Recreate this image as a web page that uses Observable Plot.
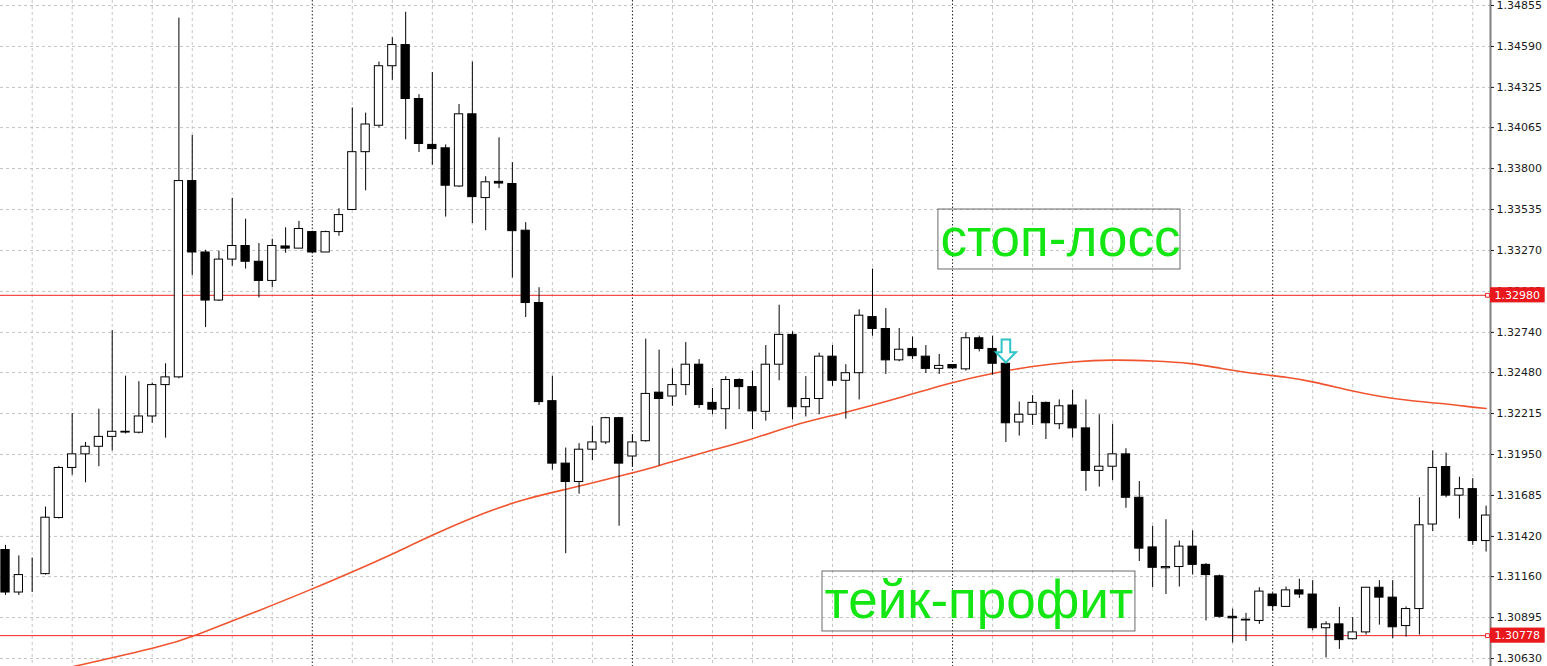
<!DOCTYPE html>
<html>
<head>
<meta charset="utf-8">
<script src="https://cdn.jsdelivr.net/npm/d3@7"></script>
<script src="https://cdn.jsdelivr.net/npm/@observablehq/plot@0.6"></script>
<style>
  html, body { margin: 0; padding: 0; background: #ffffff; }
  #chart { width: 1547px; height: 666px; overflow: hidden; }
</style>
</head>
<body>
<div id="chart"></div>
<script>
// ---- Data (H1 candles) ----
const opens = [
  1.31332,1.31057,1.31176,1.31176,1.31539,1.31863,1.31951,1.32000,1.32064,1.32097,
  1.32091,1.32196,1.32399,1.32449,1.33719,1.33257,1.32946,1.33211,1.33299,1.33197,
  1.33073,1.33296,1.33282,1.33389,1.33257,1.33389,1.33532,1.33906,1.34077,1.34462,
  1.34599,1.34250,1.33953,1.33931,1.33684,1.34151,1.33609,1.33714,1.33700,1.33398,
  1.32930,1.32295,1.31891,1.31772,1.31981,1.32028,1.32185,1.31937,1.32036,1.32350,
  1.32325,1.32399,1.32531,1.32284,1.32243,1.32432,1.32386,1.32226,1.32531,1.32724,
  1.32256,1.32309,1.32583,1.32427,1.32476,1.32839,1.32762,1.32559,1.32633,1.32583,
  1.32504,1.32529,1.32501,1.32702,1.32633,1.32537,1.32157,1.32207,1.32284,1.32146,
  1.32267,1.32119,1.31844,1.31871,1.31951,1.31670,1.31349,1.31214,1.31222,1.31354,
  1.31236,1.31162,1.30900,1.30876,1.30873,1.31044,1.30964,1.31071,1.31044,1.30826,
  1.30851,1.30755,1.30799,1.31088,1.31024,1.30840,1.30950,1.31497,1.31869,1.31684,
  1.31726,1.31390
];
const highs = [
  1.31362,1.31294,1.31280,1.31610,1.31871,1.32215,1.32028,1.32243,1.32751,1.32457,
  1.32421,1.32413,1.32537,1.34773,1.34014,1.33271,1.33265,1.33607,1.33472,1.33315,
  1.33343,1.33417,1.33458,1.33395,1.33395,1.33540,1.34192,1.34159,1.34489,1.34646,
  1.34811,1.34278,1.34421,1.33953,1.34214,1.34489,1.33747,1.33999,1.33838,1.33450,
  1.33029,1.32457,1.31992,1.32020,1.32133,1.32190,1.32190,1.32077,1.32696,1.32625,
  1.32504,1.32674,1.32564,1.32377,1.32454,1.32440,1.32490,1.32655,1.32916,1.32743,
  1.32454,1.32606,1.32655,1.32531,1.32886,1.33150,1.32894,1.32765,1.32710,1.32655,
  1.32597,1.32531,1.32738,1.32716,1.32716,1.32540,1.32289,1.32331,1.32289,1.32303,
  1.32366,1.32303,1.32207,1.32146,1.31987,1.31775,1.31486,1.31528,1.31390,1.31456,
  1.31244,1.31170,1.30950,1.30922,1.31088,1.31050,1.31093,1.31143,1.31134,1.30868,
  1.30961,1.30895,1.31090,1.31134,1.31134,1.30964,1.31670,1.31973,1.31959,1.31803,
  1.31794,1.31616
];
const lows = [
  1.31038,1.31038,1.31057,1.31170,1.31533,1.31816,1.31767,1.31871,1.31973,1.32083,
  1.32083,1.32152,1.32056,1.32440,1.33106,1.32771,1.32940,1.33169,1.33150,1.32963,
  1.33029,1.33252,1.33282,1.33250,1.33257,1.33362,1.33532,1.33656,1.34063,1.34371,
  1.33986,1.33904,1.33821,1.33486,1.33678,1.33444,1.33398,1.33670,1.33092,1.32836,
  1.32267,1.31849,1.31308,1.31693,1.31910,1.32014,1.31486,1.31869,1.32030,1.31877,
  1.32262,1.32331,1.32248,1.32207,1.32111,1.32240,1.32111,1.32166,1.32427,1.32174,
  1.32193,1.32207,1.32391,1.32179,1.32303,1.32715,1.32468,1.32550,1.32564,1.32474,
  1.32468,1.32501,1.32490,1.32614,1.32463,1.32028,1.32069,1.32138,1.32047,1.32111,
  1.32056,1.31712,1.31739,1.31781,1.31602,1.31258,1.31088,1.31044,1.31093,1.31170,
  1.30873,1.30892,1.30730,1.30741,1.30851,1.30936,1.30960,1.31019,1.30810,1.30634,
  1.30689,1.30750,1.30782,1.30846,1.30758,1.30769,1.30782,1.31451,1.31670,1.31533,
  1.31362,1.31319
];
const closes = [
  1.31057,1.31170,1.31176,1.31541,1.31863,1.31951,1.32000,1.32064,1.32097,1.32092,
  1.32196,1.32399,1.32449,1.33719,1.33257,1.32946,1.33211,1.33299,1.33197,1.33073,
  1.33299,1.33282,1.33409,1.33257,1.33389,1.33499,1.33906,1.34085,1.34462,1.34599,
  1.34250,1.33959,1.33926,1.33689,1.34151,1.33615,1.33711,1.33703,1.33395,1.32930,
  1.32289,1.31891,1.31772,1.31981,1.32028,1.32185,1.31891,1.32028,1.32342,1.32309,
  1.32399,1.32531,1.32270,1.32240,1.32432,1.32386,1.32229,1.32531,1.32724,1.32256,
  1.32309,1.32583,1.32427,1.32476,1.32848,1.32762,1.32559,1.32628,1.32586,1.32504,
  1.32523,1.32507,1.32702,1.32633,1.32537,1.32152,1.32207,1.32284,1.32152,1.32262,
  1.32119,1.31844,1.31871,1.31951,1.31670,1.31341,1.31217,1.31222,1.31354,1.31236,
  1.31170,1.30900,1.30890,1.30881,1.31063,1.30969,1.31071,1.31044,1.30826,1.30851,
  1.30749,1.30799,1.31088,1.31024,1.30832,1.30950,1.31492,1.31863,1.31684,1.31726,
  1.31390,1.31555
];

// Moving average (read at a few bars)
const maBars   = [0, 5, 12, 14, 19, 23, 27, 29, 32, 36, 39, 42, 47, 49, 52, 56, 59, 63, 67, 71, 74, 77, 80, 83, 86, 89, 91, 94, 96, 98, 101, 103, 105, 108, 110, 111];
const maValues = [1.30478, 1.30576, 1.30712, 1.30771, 1.30940, 1.31079, 1.31228, 1.31305, 1.31430, 1.31578, 1.31665, 1.31724, 1.31830, 1.31877, 1.31957, 1.32046, 1.32143, 1.32221, 1.32316, 1.32419, 1.32476, 1.32522, 1.32551, 1.32564, 1.32556, 1.32541, 1.32508, 1.32468, 1.32452, 1.32422, 1.32360, 1.32326, 1.32300, 1.32278, 1.32256, 1.32248];

// Price axis labels
const yTicks = [1.34855, 1.34590, 1.34325, 1.34065, 1.33800, 1.33535, 1.33270, 1.33005, 1.32740, 1.32480, 1.32215, 1.31950, 1.31685, 1.31420, 1.31160, 1.30895, 1.30630];

// Horizontal levels (stop-loss / take-profit)
const levels = [1.32980, 1.30778];

// Day separators and vertical grid (bar indices)
const separators = [23, 47, 71, 95];
const gridBars = d3.range(2, 112, 3).filter(i => !separators.includes(i));

// Sell signal arrow
const signal = [{i: 75, price: 1.32620}];

// Text annotations (bar index / price anchors)
const notes = [
  {label: "стоп-лосс",   i1: 69.94, i2: 88.09, top: 1.33535, bottom: 1.33147},
  {label: "тейк-профит", i1: 61.25, i2: 84.71, top: 1.31193, bottom: 1.30805}
];

// ---- Build ----
const candles = opens.map((o, i) => ({i, open: o, high: highs[i], low: lows[i], close: closes[i]}));
const ma = maBars.map((b, k) => ({i: b, v: maValues[k]}));

const xDomain = [-0.375, 111.33];
const yDomain = [1.305784, 1.348873];

const arrowSymbol = {
  draw(ctx, size) {
    const s = Math.sqrt(size / Math.PI);
    ctx.moveTo(-0.43 * s, -1.15 * s);
    ctx.lineTo(0.43 * s, -1.15 * s);
    ctx.lineTo(0.43 * s, 0.12 * s);
    ctx.lineTo(1.0 * s, 0.12 * s);
    ctx.lineTo(0, 1.15 * s);
    ctx.lineTo(-1.0 * s, 0.12 * s);
    ctx.lineTo(-0.43 * s, 0.12 * s);
    ctx.closePath();
  }
};

const chart = Plot.plot({
  width: 1547,
  height: 666,
  marginLeft: 0,
  marginRight: 57,
  marginTop: 0,
  marginBottom: 0,
  x: {domain: xDomain, axis: null},
  y: {domain: yDomain, axis: null},
  style: {fontFamily: "'DejaVu Sans', sans-serif", fontSize: "11px", color: "#1a1a1a", background: "#ffffff"},
  marks: [
    Plot.ruleY(yTicks, {stroke: "#c4c4c4", strokeDasharray: "3,3", strokeWidth: 1}),
    Plot.ruleX(gridBars, {stroke: "#c4c4c4", strokeDasharray: "3,3", strokeWidth: 1}),
    Plot.ruleX(separators, {stroke: "#222222", strokeDasharray: "1.5,2", strokeWidth: 1}),
    Plot.ruleY(levels, {stroke: "#f02020", strokeWidth: 1}),
    Plot.line(ma, {x: "i", y: "v", stroke: "#f0542f", strokeWidth: 1.6, curve: "basis", clip: true}),
    Plot.ruleX(candles, {x: "i", y1: "low", y2: "high", stroke: "#000000", strokeWidth: 1}),
    Plot.rect(candles, {
      x1: d => d.i - 0.31, x2: d => d.i + 0.31,
      y1: "open", y2: "close",
      fill: d => d.close >= d.open ? "#ffffff" : "#000000",
      stroke: "#000000", strokeWidth: 1
    }),
    Plot.rect(notes, {x1: "i1", x2: "i2", y1: "bottom", y2: "top", fill: "none", stroke: "#6a6a6a", strokeWidth: 1}),
    Plot.text(notes, {
      x: "i1", y: d => (d.top + d.bottom) / 2, text: "label",
      textAnchor: "start", dx: 2, fontSize: 53,
      fontFamily: "'Liberation Sans', Arial, sans-serif", fill: "#14e614"
    }),
    Plot.dot(signal, {x: "i", y: "price", symbol: arrowSymbol, r: 10, fill: "#ffffff", stroke: "#30c4c8", strokeWidth: 2}),
    Plot.ruleX([xDomain[1]], {stroke: "#808080", strokeWidth: 2}),
    Plot.axisY({
      anchor: "right", ticks: yTicks, tickSize: 3, tickPadding: 3,
      tickFormat: d => d.toFixed(5), fontSize: 11
    }),
    Plot.rect(levels, {
      x1: xDomain[1], x2: xDomain[1] + 4.1,
      y1: d => d - 0.00049, y2: d => d + 0.00049,
      fill: "#e8181c"
    }),
    Plot.text(levels, {
      x: xDomain[1], y: d => d, text: d => d.toFixed(5),
      textAnchor: "start", dx: 4, fill: "#ffffff", fontSize: 11
    }),
    Plot.dot(levels, {x: xDomain[1], y: d => d, dx: -3, symbol: "square", r: 2.2, fill: "#ffffff", stroke: "#f02020", strokeWidth: 1})
  ]
});

document.getElementById("chart").appendChild(chart);
</script>
</body>
</html>
